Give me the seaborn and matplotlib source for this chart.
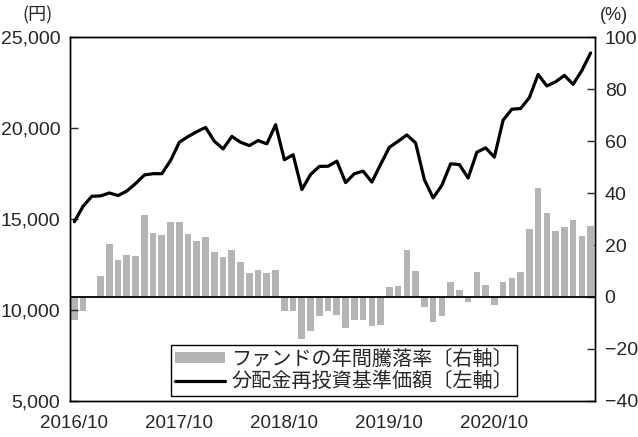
import numpy as np
import pandas as pd
import matplotlib
matplotlib.use("Agg")
import matplotlib.pyplot as plt
import seaborn as sns
from matplotlib.patches import Patch
from matplotlib.lines import Line2D

### DATA ###
months = pd.period_range("2016-10", periods=60, freq="M").strftime("%Y/%m")
tick_labels = ["2016/10", "2017/10", "2018/10", "2019/10", "2020/10"]

# fund yearly return, % (right axis)
ret_pct = [-9.0, -5.2, 0.0, 8.2, 20.5, 14.3, 16.3, 15.6, 31.7, 24.7,
           24.0, 29.0, 29.0, 24.3, 21.7, 22.9, 17.2, 15.5, 18.1, 13.5,
           9.2, 10.2, 9.1, 10.5, -5.2, -5.2, -16.2, -13.0, -7.3, -5.2,
           -7.1, -11.9, -8.7, -9.0, -11.3, -10.7, 3.7, 4.2, 17.9, 10.0,
           -3.8, -9.6, -7.2, 5.8, 2.8, -2.1, 9.5, 4.6, -3.1, 5.6,
           7.2, 9.8, 26.3, 41.8, 32.2, 25.4, 26.9, 29.6, 23.6, 27.4]

# NAV incl. reinvested dividends, yen (left axis)
nav_yen = [14850, 15700, 16250, 16270, 16430, 16290, 16540, 16950, 17420, 17490,
           17490, 18220, 19220, 19530, 19800, 20030, 19270, 18850, 19540, 19215,
           19035, 19310, 19130, 20180, 18255, 18530, 16620, 17450, 17890, 17900,
           18180, 17000, 17490, 17630, 17030, 18000, 18940, 19270, 19620, 19180,
           17160, 16160, 16850, 18035, 17990, 17250, 18670, 18910, 18400, 20435,
           21035, 21070, 21670, 22945, 22310, 22540, 22890, 22400, 23160, 24125]

df = pd.DataFrame({"idx": np.arange(len(months)), "month": months,
                   "ret": ret_pct, "nav": nav_yen})

### STYLE ###
sns.set_style("white")
num_font = ["Liberation Sans", "DejaVu Sans"]
jp_font = ["Noto Sans CJK JP", "DejaVu Sans"]
plt.rcParams["font.family"] = num_font

bar_col = "#b4b4b4"

### PLOT ###
fig = plt.figure(figsize=(6.38, 4.37), dpi=100)
ax_l = fig.add_axes([0.1097, 0.0824, 0.8229, 0.8329])
ax_r = ax_l.twinx()

sns.barplot(data=df, x="idx", y="ret", color=bar_col, saturation=1,
            width=0.77, ax=ax_r, linewidth=0)
ax_r.axhline(0, color="black", lw=1.3, zorder=3)

sns.lineplot(data=df, x="idx", y="nav", color="black", lw=2.3, ax=ax_l)

# put the line above the bars
ax_l.set_zorder(ax_r.get_zorder() + 1)
ax_l.patch.set_visible(False)

ax_l.set_xlim(-0.5, len(months) - 0.5)
ax_l.set_ylim(5000, 25000)
ax_r.set_ylim(-40, 100)

ax_l.set_yticks([5000, 10000, 15000, 20000, 25000])
ax_l.set_yticklabels([f"{v:,}" for v in [5000, 10000, 15000, 20000, 25000]])
ax_r.set_yticks([-40, -20, 0, 20, 40, 60, 80, 100])
ax_r.set_yticklabels(["\u221240", "\u221220", "0", "20", "40", "60", "80", "100"])
ax_l.set_xticks([0, 12, 24, 36, 48])
ax_l.set_xticklabels(tick_labels)

ax_l.tick_params(axis="y", direction="in", length=6, width=1, labelsize=14, pad=7)
ax_r.tick_params(axis="y", direction="in", length=6, width=1, labelsize=14, pad=7)
ax_l.tick_params(axis="x", length=0, labelsize=13.5, pad=10)
ax_r.tick_params(axis="x", length=0)

for a in (ax_l, ax_r):
    a.set_xlabel("")
    a.set_ylabel("")
    for s in a.spines.values():
        s.set_color("black")
        s.set_linewidth(1.0)
        s.set_visible(True)

fig.text(0.058, 0.965, "(円)", fontsize=13, family=jp_font, ha="center", va="center")
fig.text(0.962, 0.965, "(%)", fontsize=13, ha="center", va="center")

handles = [Patch(facecolor=bar_col, edgecolor="none"),
           Line2D([], [], color="black", lw=2.3)]
labels = ["ファンドの年間騰落率〔右軸〕", "分配金再投資基準価額〔左軸〕"]
leg = ax_l.legend(handles, labels, loc="lower center", bbox_to_anchor=(0.522, 0.014),
                  prop={"family": jp_font, "size": 14.5}, frameon=True, fancybox=False,
                  edgecolor="black", framealpha=1, handlelength=2.5, handleheight=0.45,
                  borderpad=0.2, labelspacing=0.05, handletextpad=0.3, borderaxespad=0)
leg.get_frame().set_linewidth(1.0)

fig.savefig("out.png", dpi=100)
